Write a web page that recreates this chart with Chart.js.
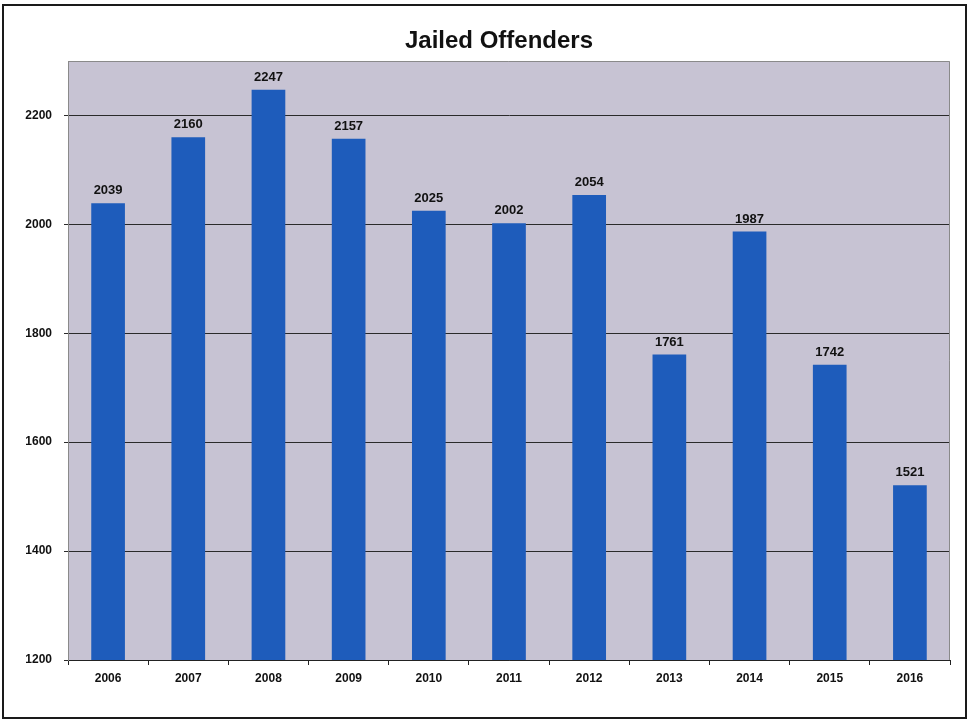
<!DOCTYPE html>
<html>
<head>
<meta charset="utf-8">
<title>Jailed Offenders</title>
<script src="https://cdn.jsdelivr.net/npm/chart.js@4/dist/chart.umd.min.js"></script>
<style>
  html, body { margin: 0; padding: 0; background: #ffffff; }
  #wrap { width: 969px; height: 721px; }
</style>
</head>
<body>
<div id="wrap"><canvas id="offendersChart" width="969" height="721"></canvas></div>
<script>
const titulo = "Jailed Offenders";
const anos = ["2006", "2007", "2008", "2009", "2010", "2011", "2012", "2013", "2014", "2015", "2016"];
const presos = [2039, 2160, 2247, 2157, 2025, 2002, 2054, 1761, 1987, 1742, 1521];
const yTicks = [1200, 1400, 1600, 1800, 2000, 2200];
const yMin = 1200;
const yMax = 2300;

const fonte = "'Liberation Sans', Arial, sans-serif";

// fundo branco, moldura externa, titulo e fundo da área de plotagem
const fundoPlugin = {
  id: "fundo",
  beforeDraw(chart) {
    const { ctx, chartArea } = chart;
    ctx.save();
    ctx.fillStyle = "#ffffff";
    ctx.fillRect(0, 0, chart.width, chart.height);
    ctx.strokeStyle = "#1a1a1a";
    ctx.lineWidth = 2;
    ctx.strokeRect(3, 5, chart.width - 6, chart.height - 8);
    ctx.fillStyle = "#c7c3d3";
    ctx.fillRect(chartArea.left, chartArea.top, chartArea.right - chartArea.left, chartArea.bottom - chartArea.top);

    // titulo centrado um pouco à direita, sobre a área de plotagem
    ctx.font = "bold 24px " + fonte;
    ctx.fillStyle = "#111111";
    ctx.textAlign = "center";
    ctx.textBaseline = "middle";
    ctx.fillText(titulo, 499, 41);
    ctx.restore();
  },
  afterDraw(chart) {
    const { ctx, chartArea } = chart;
    ctx.save();
    ctx.strokeStyle = "#8a8a8a";
    ctx.lineWidth = 1;
    ctx.beginPath();
    ctx.moveTo(chartArea.left, chartArea.top + 0.5);
    ctx.lineTo(chartArea.right - 0.5, chartArea.top + 0.5);
    ctx.lineTo(chartArea.right - 0.5, chartArea.bottom);
    ctx.stroke();
    ctx.restore();
  },
};

// valores em cima de cada barra
const rotulosPlugin = {
  id: "rotulos",
  afterDatasetsDraw(chart) {
    const { ctx } = chart;
    const meta = chart.getDatasetMeta(0);
    ctx.save();
    ctx.font = "bold 13px " + fonte;
    ctx.fillStyle = "#111111";
    ctx.textAlign = "center";
    ctx.textBaseline = "bottom";
    meta.data.forEach((bar, i) => {
      ctx.fillText(String(presos[i]), bar.x, bar.y - 6);
    });
    ctx.restore();
  },
};

new Chart(document.getElementById("offendersChart"), {
  type: "bar",
  data: {
    labels: anos,
    datasets: [
      {
        data: presos,
        backgroundColor: "#1e5cbb",
        borderWidth: 0,
        categoryPercentage: 1,
        barPercentage: 0.42,
      },
    ],
  },
  options: {
    responsive: false,
    animation: false,
    layout: {
      padding: { top: 61, left: 0, right: 19, bottom: 10 },
    },
    plugins: {
      legend: { display: false },
      tooltip: { enabled: false },
      title: { display: false },
    },
    scales: {
      x: {
        grid: {
          offset: true,
          drawOnChartArea: false,
          drawTicks: true,
          tickLength: 5,
          color: "#222222",
        },
        border: { color: "#222222", width: 1 },
        ticks: {
          color: "#111111",
          padding: 6,
          maxRotation: 0,
          font: { family: fonte, size: 12, weight: "bold" },
        },
        afterFit(scale) {
          scale.height = 51;
        },
      },
      y: {
        min: yMin,
        max: yMax,
        afterBuildTicks(scale) {
          scale.ticks = yTicks.map((v) => ({ value: v }));
        },
        grid: {
          color: "#2a2a2a",
          lineWidth: 1,
          drawTicks: true,
          tickLength: 4,
        },
        border: { color: "#8a8a8a", width: 1 },
        ticks: {
          color: "#111111",
          padding: 12,
          font: { family: fonte, size: 12, weight: "bold" },
          callback: (valor) => String(valor),
        },
        afterFit(scale) {
          scale.width = 68;
        },
      },
    },
  },
  plugins: [fundoPlugin, rotulosPlugin],
});
</script>
</body>
</html>
